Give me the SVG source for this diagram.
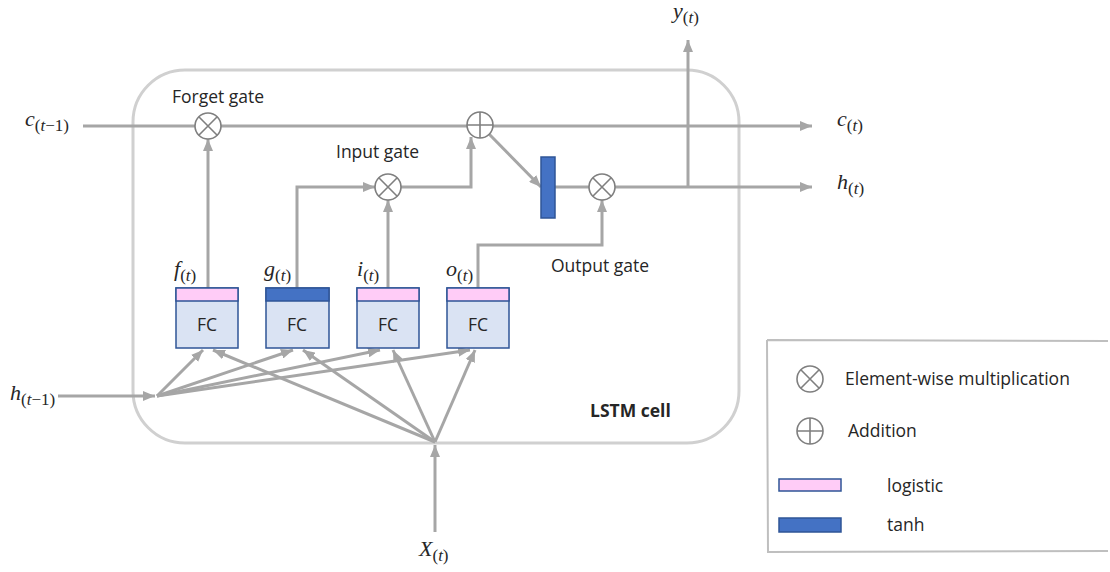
<svg xmlns="http://www.w3.org/2000/svg" width="1110" height="572" viewBox="0 0 1110 572">
<defs>
<marker id="ah" markerUnits="userSpaceOnUse" markerWidth="12" markerHeight="10" refX="12" refY="5" orient="auto">
<path d="M0,0 L12,5 L0,10 z" fill="#a6a6a6"/>
</marker>
<style>
.cn{fill:none;stroke:#a6a6a6;stroke-width:3;marker-end:url(#ah)}
.cp{fill:none;stroke:#a6a6a6;stroke-width:3}
.op{fill:#fff;stroke:#7f7f7f;stroke-width:1.6}
.ox{stroke:#7f7f7f;stroke-width:1.6}
.fc{fill:#dae3f3;stroke:#2f5597;stroke-width:1.5}
.pk{fill:#ffccf7;stroke:#2f5597;stroke-width:1.5}
.bl{fill:#4472c4;stroke:#2f5597;stroke-width:1.5}
.t{font-family:"Open Sans","Noto Sans",sans-serif;font-size:17.5px;fill:#262626}
.m{font-family:"Liberation Serif",serif;font-style:italic;font-size:22px;fill:#262626}
.s{font-size:17px}
.u{font-style:normal}
</style>
</defs>
<rect id="cell" x="133" y="70" width="606" height="373" rx="52" fill="none" stroke="#d0d0d0" stroke-width="3"/>
<g id="connectors">
<path class="cn" d="M83,126 L812,126"/>
<path class="cn" d="M208,288 L208,139"/>
<path class="cn" d="M297,288 L297,187 L375,187"/>
<path class="cn" d="M388,288 L388,200"/>
<path class="cn" d="M401,187 L471,187 L471,137"/>
<path class="cn" d="M489,134 L541,187"/>
<path class="cp" d="M555,187 L589,187"/>
<path class="cn" d="M478,288 L478,245 L602,245 L602,200"/>
<path class="cn" d="M615,187 L812,187"/>
<path class="cn" d="M688,187 L688,40"/>
<path class="cn" d="M58,396 L155,396"/>
<path class="cn" d="M157,396 L203,350"/>
<path class="cn" d="M157,396 L293,350"/>
<path class="cn" d="M157,396 L380,350"/>
<path class="cn" d="M157,396 L470,350"/>
<path class="cn" d="M435,442 L213,350"/>
<path class="cn" d="M435,442 L303,350"/>
<path class="cn" d="M435,442 L393,350"/>
<path class="cn" d="M435,442 L475,350"/>
<path class="cn" d="M435,532 L435,445"/>
</g>
<g id="forget-mult"><circle class="op" cx="208" cy="126" r="13"/><path class="ox" d="M198.8,116.8 L217.2,135.2 M217.2,116.8 L198.8,135.2"/></g>
<g id="add"><circle class="op" cx="480" cy="125" r="13"/><path class="ox" d="M467,125 L493,125 M480,112 L480,138"/></g>
<g id="input-mult"><circle class="op" cx="388" cy="187" r="13"/><path class="ox" d="M378.8,177.8 L397.2,196.2 M397.2,177.8 L378.8,196.2"/></g>
<g id="output-mult"><circle class="op" cx="602" cy="187" r="13"/><path class="ox" d="M592.8,177.8 L611.2,196.2 M611.2,177.8 L592.8,196.2"/></g>
<g id="tanh-bar"><rect class="bl" x="541" y="157" width="14" height="61"/></g>
<g id="fc-f"><rect class="fc" x="176" y="288" width="62" height="60"/><rect class="pk" x="176" y="288" width="62" height="13"/><text class="t" x="207" y="331" text-anchor="middle">FC</text></g>
<g id="fc-g"><rect class="fc" x="266" y="288" width="63" height="60"/><rect class="bl" x="266" y="288" width="63" height="13"/><text class="t" x="297" y="331" text-anchor="middle">FC</text></g>
<g id="fc-i"><rect class="fc" x="357" y="288" width="62" height="60"/><rect class="pk" x="357" y="288" width="62" height="13"/><text class="t" x="388" y="331" text-anchor="middle">FC</text></g>
<g id="fc-o"><rect class="fc" x="447" y="288" width="62" height="60"/><rect class="pk" x="447" y="288" width="62" height="13"/><text class="t" x="478" y="331" text-anchor="middle">FC</text></g>
<g id="labels">
<text class="t" x="172" y="103">Forget gate</text>
<text class="t" x="336" y="158">Input gate</text>
<text class="t" x="551" y="272">Output gate</text>
<text class="t" x="590" y="417" font-weight="bold" font-size="16.4">LSTM cell</text>
<text class="m" x="174" y="276">f<tspan class="s" dy="5"><tspan class="u">(</tspan>t<tspan class="u">)</tspan></tspan></text>
<text class="m" x="264" y="276">g<tspan class="s" dy="5"><tspan class="u">(</tspan>t<tspan class="u">)</tspan></tspan></text>
<text class="m" x="357" y="276">i<tspan class="s" dy="5"><tspan class="u">(</tspan>t<tspan class="u">)</tspan></tspan></text>
<text class="m" x="446" y="276">o<tspan class="s" dy="5"><tspan class="u">(</tspan>t<tspan class="u">)</tspan></tspan></text>
<text class="m" x="25" y="126">c<tspan class="s" dy="5"><tspan class="u">(</tspan>t<tspan class="u">−1)</tspan></tspan></text>
<text class="m" x="837" y="126">c<tspan class="s" dy="5"><tspan class="u">(</tspan>t<tspan class="u">)</tspan></tspan></text>
<text class="m" x="837" y="189">h<tspan class="s" dy="5"><tspan class="u">(</tspan>t<tspan class="u">)</tspan></tspan></text>
<text class="m" x="673" y="18">y<tspan class="s" dy="5"><tspan class="u">(</tspan>t<tspan class="u">)</tspan></tspan></text>
<text class="m" x="10" y="400">h<tspan class="s" dy="5"><tspan class="u">(</tspan>t<tspan class="u">−1)</tspan></tspan></text>
<text class="m" x="419" y="556">X<tspan class="s" dy="5"><tspan class="u">(</tspan>t<tspan class="u">)</tspan></tspan></text>
</g>
<g id="legend">
<path d="M767,340 L1108,341 M767,340 L768,552 L1108,551" fill="none" stroke="#bfbfbf" stroke-width="2"/>
<circle class="op" cx="810" cy="379" r="13"/><path class="ox" d="M800.8,369.8 L819.2,388.2 M819.2,369.8 L800.8,388.2"/>
<text class="t" x="845" y="385">Element-wise multiplication</text>
<circle class="op" cx="810" cy="431" r="13"/><path class="ox" d="M797,431 L823,431 M810,418 L810,444"/>
<text class="t" x="848" y="437">Addition</text>
<rect class="pk" x="779" y="479" width="62" height="12"/>
<text class="t" x="887" y="492">logistic</text>
<rect class="bl" x="779" y="518" width="62" height="14"/>
<text class="t" x="887" y="531">tanh</text>
</g>
</svg>
